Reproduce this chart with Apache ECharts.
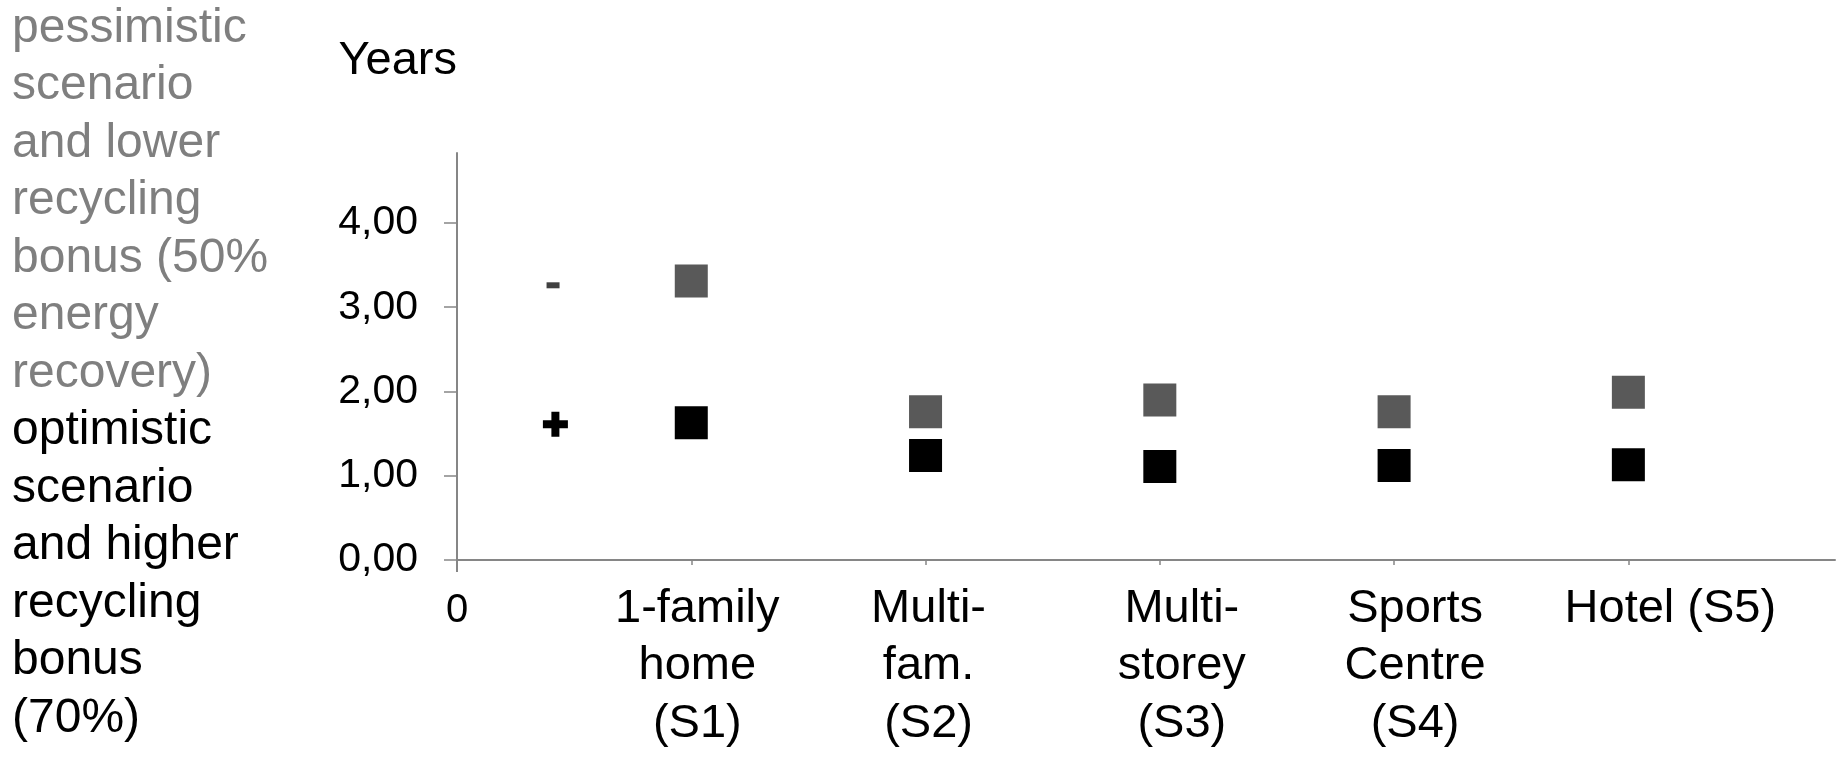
<!DOCTYPE html>
<html>
<head>
<meta charset="utf-8">
<style>
  html, body { margin: 0; padding: 0; background: #ffffff; }
  #chart { width: 1838px; height: 760px; }
</style>
<script src="https://cdn.jsdelivr.net/npm/echarts@6/dist/echarts.min.js"></script>
</head>
<body>
<div id="chart"></div>
<script>
// ---- data ----
const categoryX = [1, 2, 3, 4, 5];
const categories = ['1-family\nhome\n(S1)', 'Multi-\nfam.\n(S2)', 'Multi-\nstorey\n(S3)', 'Sports\nCentre\n(S4)', 'Hotel (S5)'];
const pessimistic = [3.31, 1.76, 1.90, 1.76, 1.99];
const optimistic = [1.63, 1.24, 1.11, 1.12, 1.13];
const yTicks = [0, 1, 2, 3, 4];
const xZeroLabel = '0';
const yAxisName = 'Years';
const legendPessimistic = 'pessimistic\nscenario\nand lower\nrecycling\nbonus (50%\nenergy\nrecovery)';
const legendOptimistic = 'optimistic\nscenario\nand higher\nrecycling\nbonus\n(70%)';
const signMinus = [0.41, 3.26];
const signPlus = [0.42, 1.61];

// ---- style ----
const FONT = 'Liberation Sans, Arial, sans-serif';
const AXIS_GREY = '#868686';
const X_MAX = 5.882;   // visible part of the x extent (axis runs off the right edge)
const Y_MAX = 4.83;    // visible part of the y extent (top is cut off)
const labelShift = [0, 6, 3, 22, 21, 42]; // horizontal nudge per x label (px)

const rich = { z: { fontSize: 40, lineHeight: 62, fontFamily: FONT, color: '#000' } };
categoryX.forEach((v) => {
  const s = labelShift[v];
  rich['s' + v] = { fontSize: 47, lineHeight: 57.5, fontFamily: FONT, color: '#000', padding: [0, -s, 0, s] };
});

const pessData = categoryX.map((x, i) => [x, pessimistic[i]]);
const optData = categoryX.map((x, i) => [x, optimistic[i]]);

const chart = echarts.init(document.getElementById('chart'), null, { renderer: 'canvas' });
chart.setOption({
  animation: false,
  backgroundColor: '#ffffff',
  title: [
    { text: legendPessimistic, left: 12, top: 0, padding: 0,
      textStyle: { fontSize: 48, lineHeight: 57.5, fontWeight: 'normal', color: '#7f7f7f', fontFamily: FONT } },
    { text: legendOptimistic, left: 12, top: 402.5, padding: 0,
      textStyle: { fontSize: 48, lineHeight: 57.5, fontWeight: 'normal', color: '#000000', fontFamily: FONT } }
  ],
  grid: { left: 457, top: 153, right: 0, height: 407, containLabel: false },
  xAxis: [{
    type: 'value', min: 0, max: X_MAX, interval: 1, position: 'bottom',
    splitLine: { show: false },
    axisLine: { show: true, onZero: false, lineStyle: { color: AXIS_GREY, width: 2 } },
    axisTick: { show: true, length: 5, customValues: categoryX, lineStyle: { color: AXIS_GREY, width: 1.5 } },
    axisLabel: {
      show: true, margin: 20, customValues: [0].concat(categoryX).concat([X_MAX]), hideOverlap: false,
      showMinLabel: true, showMaxLabel: true,
      formatter: function (v) {
        if (v === 0) return '{z|' + xZeroLabel + '}';
        const idx = categoryX.indexOf(v);
        if (idx < 0) return '';
        return categories[idx].split('\n').map(l => '{s' + v + '|' + l + '}').join('\n');
      },
      rich: rich
    }
  }, {
    type: 'value', min: 0, max: X_MAX, position: 'bottom', gridIndex: 0,
    axisLine: { show: false }, splitLine: { show: false }, axisLabel: { show: false },
    axisTick: { show: true, length: 12, customValues: [0], lineStyle: { color: AXIS_GREY, width: 2 } }
  }],
  yAxis: {
    type: 'value', min: 0, max: Y_MAX, interval: 1,
    name: yAxisName, nameLocation: 'end', nameGap: 92,
    nameTextStyle: { fontSize: 47, lineHeight: 47, fontFamily: FONT, color: '#000', align: 'right', verticalAlign: 'middle', padding: 0 },
    splitLine: { show: false },
    axisLine: { show: true, onZero: false, lineStyle: { color: AXIS_GREY, width: 2 } },
    axisTick: { show: true, length: 13, customValues: yTicks, lineStyle: { color: AXIS_GREY, width: 1.5 } },
    axisLabel: {
      show: true, margin: 39, customValues: yTicks, fontSize: 41, fontFamily: FONT, color: '#000',
      formatter: v => v.toFixed(2).replace('.', ',')
    }
  },
  series: [
    { name: 'pessimistic', type: 'scatter', data: pessData, symbol: 'rect', symbolSize: 33,
      itemStyle: { color: '#595959', opacity: 1 }, z: 3 },
    { name: 'optimistic', type: 'scatter', data: optData, symbol: 'rect', symbolSize: 33,
      itemStyle: { color: '#000000', opacity: 1 }, z: 3 },
    { name: 'minus', type: 'scatter', data: [signMinus], symbol: 'rect', symbolSize: [13, 6],
      itemStyle: { color: '#404040', opacity: 1 }, z: 3 },
    { name: 'plus', type: 'scatter', data: [signPlus],
      symbol: 'path://M0,8.5 H8.5 V0 H16.5 V8.5 H25 V16.5 H16.5 V25 H8.5 V16.5 H0 Z', symbolSize: [25, 25],
      itemStyle: { color: '#000000', opacity: 1 }, z: 3 }
  ]
});
</script>
</body>
</html>
